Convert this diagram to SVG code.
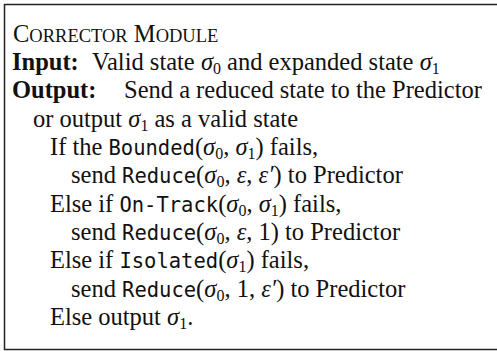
<svg xmlns="http://www.w3.org/2000/svg" width="497" height="352" viewBox="0 0 497 352">
<style>
.t{font-family:"Liberation Serif","Times New Roman",serif;font-size:24.5px;fill:#111}
.b{font-weight:bold}
.sc{font-size:18.5px}
.m{font-family:"DejaVu Sans Mono","Liberation Mono",monospace;font-size:20.5px}
.i{font-style:italic}
.s{font-size:16px}
</style>
<rect x="4.5" y="4.5" width="500" height="345" fill="#fff" stroke="#222" stroke-width="1.5"/>
<g id="module">
<text class="t" x="13" y="42">C<tspan class="sc">ORRECTOR</tspan> M<tspan class="sc">ODULE</tspan></text>
<text class="t b" x="12" y="70">Input:</text>
<text class="t" x="92" y="70">Valid state <tspan class="i">σ</tspan><tspan class="s" dy="4">0</tspan><tspan dy="-4"> and expanded state </tspan><tspan class="i">σ</tspan><tspan class="s" dy="4">1</tspan></text>
<text class="t b" x="12" y="98.3">Output:</text>
<text class="t" x="124" y="98.3">Send a reduced state to the Predictor</text>
<text class="t" x="33" y="126.7">or output <tspan class="i">σ</tspan><tspan class="s" dy="4">1</tspan><tspan dy="-4"> as a valid state</tspan></text>
<text class="t" x="50" y="155">If the <tspan class="m">Bounded</tspan>(<tspan class="i">σ</tspan><tspan class="s" dy="4">0</tspan><tspan dy="-4">, </tspan><tspan class="i">σ</tspan><tspan class="s" dy="4">1</tspan><tspan dy="-4">) fails,</tspan></text>
<text class="t" x="71" y="183.3">send <tspan class="m">Reduce</tspan>(<tspan class="i">σ</tspan><tspan class="s" dy="4">0</tspan><tspan dy="-4">, </tspan><tspan class="i">ε</tspan>, <tspan class="i">ε′</tspan>) to Predictor</text>
<text class="t" x="50" y="211.7">Else if <tspan class="m">On-Track</tspan>(<tspan class="i">σ</tspan><tspan class="s" dy="4">0</tspan><tspan dy="-4">, </tspan><tspan class="i">σ</tspan><tspan class="s" dy="4">1</tspan><tspan dy="-4">) fails,</tspan></text>
<text class="t" x="71" y="240">send <tspan class="m">Reduce</tspan>(<tspan class="i">σ</tspan><tspan class="s" dy="4">0</tspan><tspan dy="-4">, </tspan><tspan class="i">ε</tspan>, 1) to Predictor</text>
<text class="t" x="50" y="268.3">Else if <tspan class="m">Isolated</tspan>(<tspan class="i">σ</tspan><tspan class="s" dy="4">1</tspan><tspan dy="-4">) fails,</tspan></text>
<text class="t" x="71" y="296.7">send <tspan class="m">Reduce</tspan>(<tspan class="i">σ</tspan><tspan class="s" dy="4">0</tspan><tspan dy="-4">, 1, </tspan><tspan class="i">ε′</tspan>) to Predictor</text>
<text class="t" x="50" y="325">Else output <tspan class="i">σ</tspan><tspan class="s" dy="4">1</tspan><tspan dy="-4">.</tspan></text>
</g>
</svg>
